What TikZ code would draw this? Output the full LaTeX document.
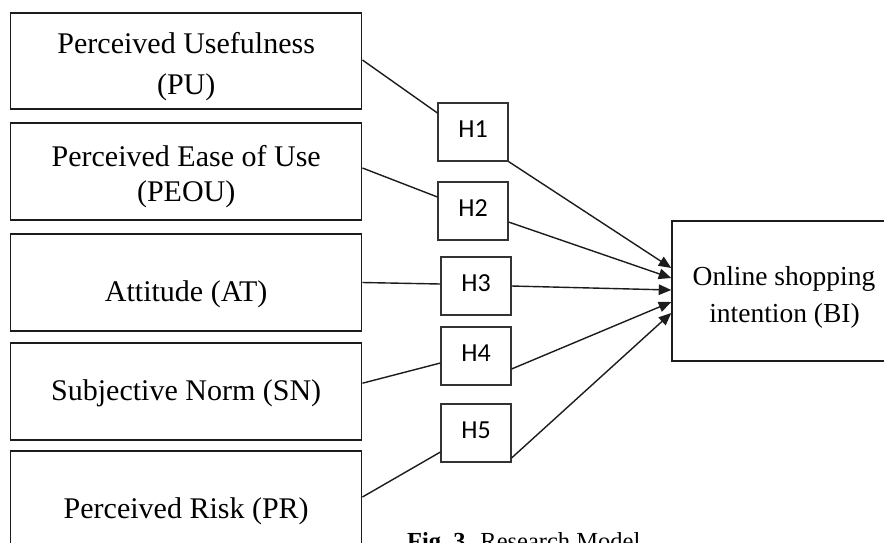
\documentclass[tikz,border=0pt]{standalone}
\usepackage{fontspec}
\setmainfont{Liberation Serif}
\newfontfamily\hfont{Carlito}
\usetikzlibrary{arrows.meta}
\definecolor{ink}{HTML}{1C1C1C}
\begin{document}
\begin{tikzpicture}[x=1pt,y=-1pt,
  bigbox/.style={draw=ink, line width=1.5pt, minimum width=351pt, inner sep=0pt},
  hbox/.style={draw=ink!90, line width=1.1pt, minimum width=70pt, minimum height=58pt, inner sep=0pt,
    font=\hfont\fontsize{26}{30}\selectfont, text depth=6pt},
  lbl/.style={anchor=base, inner sep=0pt, font=\fontsize{30}{36}\selectfont, text=black},
  bilbl/.style={anchor=base, inner sep=0pt, font=\fontsize{27.5}{33}\selectfont, text=black},
  link/.style={draw=ink, line width=1.4pt},
  conn/.style={draw=ink, line width=1.4pt, -{Triangle[length=12.5pt,width=10.5pt]}}]
\useasboundingbox (0,0) rectangle (884,542);
\clip (0,0) rectangle (884,542);
\fill[white] (0,0) rectangle (884,542);

% left boxes
\node[bigbox, minimum height=96pt] (pu) at (186.2,61) {};
\node[bigbox, minimum height=97pt] (peou) at (186.2,171.5) {};
\node[bigbox, minimum height=97pt] (at) at (186.2,282.5) {};
\node[bigbox, minimum height=97pt] (sn) at (186.2,391.7) {};
\node[bigbox, minimum height=97pt] (pr) at (186.2,499.5) {};

\node[lbl] (pu1) at (186.2,53.3) {Perceived Usefulness};
\node[lbl] (pu2) at (186.2,94.3) {(PU)};
\node[lbl] (peou1) at (186.2,166) {Perceived Ease of Use};
\node[lbl] (peou2) at (186.2,201) {(PEOU)};
\node[lbl] (at1) at (186.2,301.7) {Attitude (AT)};
\node[lbl] (sn1) at (186.2,400) {Subjective Norm (SN)};
\node[lbl] (pr1) at (186.2,518.3) {Perceived Risk (PR)};

% hypothesis boxes
\node[hbox] (h1) at (473,132) {H1};
\node[hbox] (h2) at (473,211) {H2};
\node[hbox] (h3) at (476,286) {H3};
\node[hbox] (h4) at (476,356) {H4};
\node[hbox] (h5) at (476,433) {H5};

% outcome box
\node[draw=ink, line width=1.5pt, minimum width=224pt, minimum height=140pt, inner sep=0pt] (bi) at (784,291) {};
\node[bilbl] (bi1) at (784,285) {Online shopping};
\node[bilbl] (bi2) at (784.5,322) {intention (BI)};

% links from constructs to hypotheses
\draw[link] ([yshift=1pt]pu.east) -- ([yshift=19pt]h1.west);
\draw[link] ([yshift=3.5pt]peou.east) -- ([yshift=14pt]h2.west);
\draw[link] (at.east) -- ([yshift=2pt]h3.west);
\draw[link] ([yshift=8.5pt]sn.east) -- ([yshift=-7pt]h4.west);
\draw[link] ([yshift=2.5pt]pr.east) -- ([yshift=-19pt]h5.west);

% arrows from hypotheses to outcome
\draw[conn] (h1.south east) -- ([yshift=23pt]bi.west);
\draw[conn] ([yshift=-11pt]h2.east) -- ([yshift=13pt]bi.west);
\draw[conn] (h3.east) -- ([yshift=1pt]bi.west);
\draw[conn] ([yshift=-13pt]h4.east) -- ([yshift=-11pt]bi.west);
\draw[conn] ([yshift=-25pt]h5.east) -- ([yshift=-22pt]bi.west);

% caption (cut off at the bottom edge, as in the reference)
\node[anchor=base west, inner sep=0pt, font=\fontsize{24.5}{29}\selectfont] (cap) at (407,549.5) {\textbf{Fig.~3.}\hspace{0.35em}Research Model};
\end{tikzpicture}
\end{document}
